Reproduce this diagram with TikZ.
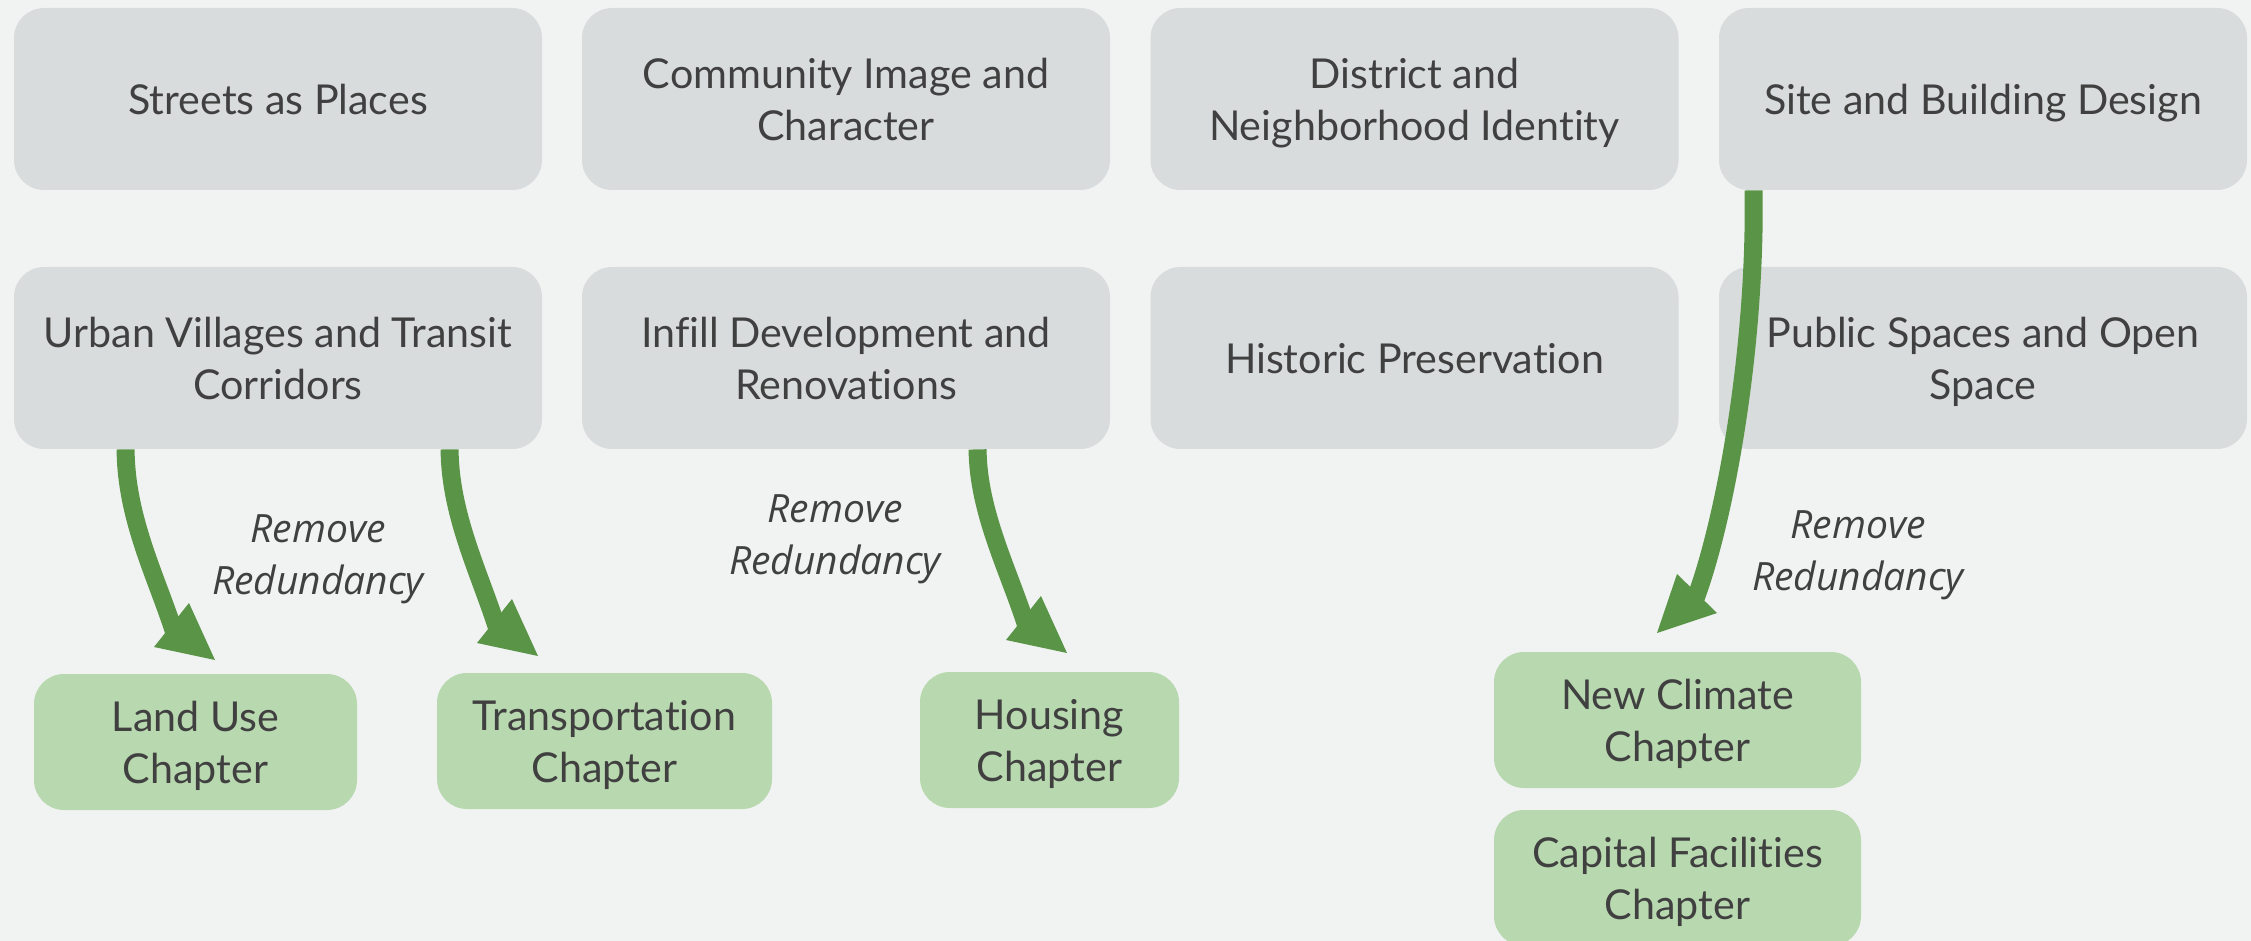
\documentclass[tikz,border=0pt]{standalone}
\usepackage{fontspec}
\setmainfont{Lato}[Ligatures=CommonOff]
\newfontfamily\labelfont{Open Sans}
\definecolor{bgc}{HTML}{F1F3F2}
\definecolor{boxgray}{HTML}{D9DCDD}
\definecolor{boxgreen}{HTML}{B8D8AF}
\definecolor{arrowgreen}{HTML}{5A9446}
\definecolor{txt}{HTML}{404040}
\newcommand\boxtxt[1]{\raisebox{-2.6pt}[\height][\depth]{\begin{tabular}{@{}c@{}}#1\end{tabular}}}
\begin{document}
\begin{tikzpicture}[x=0.5pt,y=-0.5pt,
  gbox/.style={rectangle, rounded corners=15pt, fill=boxgray, text=txt,
    minimum width=264pt, minimum height=91pt, inner sep=0pt,
    font=\fontsize{20.6}{26}\selectfont},
  chbox/.style={rectangle, rounded corners=15pt, fill=boxgreen, text=txt,
    minimum height=68pt, inner sep=0pt, font=\fontsize{20.6}{26}\selectfont},
  shaft/.style={draw=arrowgreen, line width=9pt},
  head/.style={fill=arrowgreen},
  lbl/.style={text=txt, align=center, inner sep=0pt,
    font=\labelfont\itshape\fontsize{19.5}{26}\selectfont}]
\useasboundingbox (0,0) rectangle (2251,941);
\clip (0,0) rectangle (2251,941);
\fill[bgc] (0,0) rectangle (2251,941);
% gray boxes
\node[gbox] (sp) at (278,99) {\boxtxt{Streets as Places}};
\node[gbox] (ci) at (846,99) {\boxtxt{Community Image and\\Character}};
\node[gbox] (dn) at (1414.5,99) {\boxtxt{District and\\Neighborhood Identity}};
\node[gbox] (sb) at (1983,99) {\boxtxt{Site and Building Design}};
\node[gbox] (uv) at (278,358) {\boxtxt{Urban Villages and Transit\\Corridors}};
\node[gbox] (id) at (846,358) {\boxtxt{Infill Development and\\Renovations}};
\node[gbox] (hp) at (1414.5,358) {\boxtxt{Historic Preservation}};
\node[gbox] (ps) at (1983,358) {\boxtxt{Public Spaces and Open\\Space}};
% green boxes
\node[chbox, minimum width=161.5pt] (lu) at (195.5,742) {\boxtxt{Land Use\\Chapter}};
\node[chbox, minimum width=167.5pt] (tr) at (604.5,741) {\boxtxt{Transportation\\Chapter}};
\node[chbox, minimum width=129.5pt] (ho) at (1049.5,740) {\boxtxt{Housing\\Chapter}};
\node[chbox, minimum width=183.5pt] (nc) at (1677.5,720) {\boxtxt{New Climate\\Chapter}};
\node[chbox, minimum width=183.5pt] (cf) at (1677.5,878) {\boxtxt{Capital Facilities\\Chapter}};
% arrow tips (free ends)
\coordinate (t1) at (215,660);
\coordinate (t2) at (538,656);
\coordinate (t3) at (1067,653);
\coordinate (t4) at (1657,633);
% arrow 1: Urban Villages -> Land Use
\draw[shaft] ([xshift=56pt]uv.south west) .. controls (126,520) and (158,580) .. (175,635);
\fill[head] (t1) -- (154,647) -- (189,603) -- cycle;
% arrow 2: Urban Villages -> Transportation
\draw[shaft] ([xshift=218pt]uv.south west) .. controls (450,516) and (481,576) .. (498,631);
\fill[head] (t2) -- (477,643) -- (512,599) -- cycle;
% arrow 3: Infill -> Housing
\draw[shaft] ([xshift=198pt]id.south west) .. controls (978,513) and (1010,573) .. (1027,628);
\fill[head] (t3) -- (1006,640) -- (1041,596) -- cycle;
% arrow 4: Site and Building -> New Climate
\draw[shaft] ([xshift=17.5pt]sb.south west) .. controls (1756,350) and (1725,520) .. (1695,600);
\fill[head] (t4) -- (1677,574) -- (1717,613) -- cycle;
% labels
\node[lbl] (l1) at (318,559) {Remove\\Redundancy};
\node[lbl] (l2) at (835,539) {Remove\\Redundancy};
\node[lbl] (l3) at (1858,555) {Remove\\Redundancy};
\end{tikzpicture}
\end{document}
